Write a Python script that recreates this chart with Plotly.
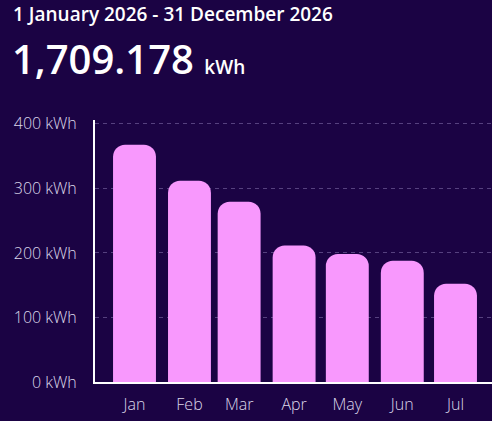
import plotly.graph_objects as go

# monthly energy, 2026
months = ["2026-01-01", "2026-02-01", "2026-03-01", "2026-04-01",
          "2026-05-01", "2026-06-01", "2026-07-01"]
month_labels = ["Jan", "Feb", "Mar", "Apr", "May", "Jun", "Jul"]
kwh = [367.5, 312.0, 279.5, 211.5, 198.5, 188.0, 152.2]
y_ticks = [0, 100, 200, 300, 400]
y_tick_labels = ["0 kWh", "100 kWh", "200 kWh", "300 kWh", "400 kWh"]

period = "1 January 2026 - 31 December 2026"
total = "1,709.178"

bg = "#1b0344"
pink = "#f898fd"
day_ms = 86400000

fig = go.Figure(go.Bar(
    x=months,
    y=kwh,
    width=24.2 * day_ms,
    marker=dict(color=pink, line=dict(width=0)),
))

tick_font = dict(family="Open Sans", size=16, color="#dcd7ea", weight=300)

fig.update_layout(
    width=492, height=421,
    margin=dict(l=95, r=0, t=120, b=39),
    paper_bgcolor=bg, plot_bgcolor=bg,
    barcornerradius=12,
    showlegend=False,
    font=dict(family="Open Sans", color="#d6d0e6"),
    xaxis=dict(
        type="date",
        range=["2025-12-09 17:30", "2026-07-21 14:00"],
        tickvals=months, ticktext=month_labels,
        tickfont=tick_font,
        showgrid=False, zeroline=False,
        showline=True, linecolor="#ffffff", linewidth=2,
        ticks="", ticklabelstandoff=7,
    ),
    yaxis=dict(
        range=[0, 406],
        tickvals=y_ticks, ticktext=y_tick_labels,
        tickfont=tick_font,
        showgrid=True, gridcolor="#56417f", griddash="4px,4px", gridwidth=1,
        zeroline=False,
        showline=True, linecolor="#ffffff", linewidth=2,
        ticks="", ticklabelstandoff=13,
    ),
    annotations=[
        dict(text=period, xref="paper", yref="paper",
             x=-0.212, y=1.405, xanchor="left", yanchor="middle",
             showarrow=False,
             font=dict(family="Open Sans", size=19, color="#ffffff", weight=600)),
        dict(text=total + " <span style='font-size:19px'>kWh</span>",
             xref="paper", yref="paper",
             x=-0.215, y=1.235,
             xanchor="left", yanchor="middle", showarrow=False,
             font=dict(family="Open Sans", size=40, color="#ffffff", weight=600)),
    ],
)

fig.write_html("out.html", config={"displayModeBar": False},
               post_script="document.body.style.margin='0';")
